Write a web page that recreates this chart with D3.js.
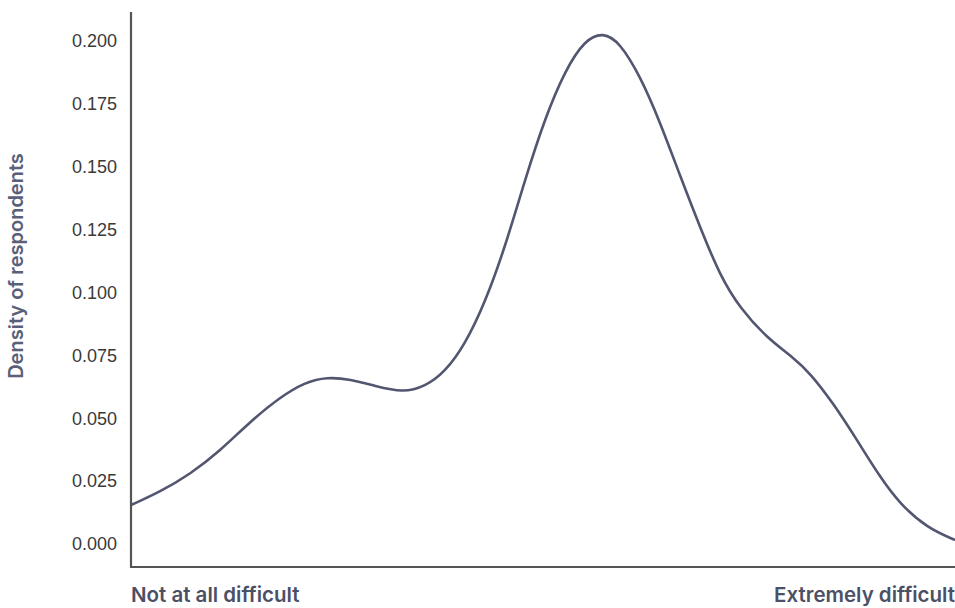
<!DOCTYPE html>
<html>
<head>
<meta charset="utf-8">
<script src="https://cdn.jsdelivr.net/npm/d3@7"></script>
<style>
  html, body { margin: 0; padding: 0; background: #fff; }
  svg { display: block; }
</style>
</head>
<body>
<svg id="chart" width="955" height="608"></svg>
<script>
// Position along the difficulty scale (0 = Not at all difficult, 1 = Extremely difficult)
const positions = [0, 0.035, 0.072, 0.108, 0.144, 0.181, 0.211, 0.238, 0.266, 0.296, 0.330, 0.357, 0.381, 0.405, 0.430, 0.454, 0.478, 0.502, 0.527, 0.551, 0.573, 0.593, 0.618, 0.642, 0.666, 0.691, 0.715, 0.739, 0.772, 0.803, 0.824, 0.852, 0.881, 0.909, 0.933, 0.966, 1.0];
// Estimated density at each position
const densities = [0.0155, 0.0207, 0.0278, 0.0370, 0.0485, 0.0584, 0.0643, 0.0664, 0.0655, 0.0628, 0.0602, 0.0626, 0.0684, 0.0791, 0.0962, 0.1181, 0.1447, 0.1690, 0.1885, 0.2005, 0.2035, 0.1995, 0.1860, 0.1678, 0.1467, 0.1256, 0.1066, 0.0938, 0.0819, 0.0744, 0.0680, 0.0561, 0.0414, 0.0266, 0.0160, 0.0064, 0.0016];
const yTicks = [0, 0.025, 0.05, 0.075, 0.1, 0.125, 0.15, 0.175, 0.2];
const xEndLabels = ["Not at all difficult", "Extremely difficult"];
const yTitle = "Density of respondents";

const svg = d3.select("#chart");
const left = 131, right = 955, axisTop = 12, axisBottom = 567;

const x = d3.scaleLinear().domain([0, 1]).range([left, right]);
const y = d3.scaleLinear().domain([0, 0.2]).range([544, 41]);

const data = positions.map((p, i) => ({ p, v: densities[i] }));

// y tick labels
svg.append("g")
  .selectAll("text")
  .data(yTicks)
  .join("text")
  .attr("x", 117)
  .attr("y", d => y(d))
  .attr("dy", "0.35em")
  .attr("text-anchor", "end")
  .attr("font-family", "Liberation Sans, Arial, sans-serif")
  .attr("font-size", 18)
  .attr("fill", "#3a3a3a")
  .text(d => d3.format(".3f")(d));

// density curve
const line = d3.line()
  .x(d => x(d.p))
  .y(d => y(d.v))
  .curve(d3.curveBasis);

svg.append("path")
  .datum(data)
  .attr("d", line)
  .attr("fill", "none")
  .attr("stroke", "#535670")
  .attr("stroke-width", 2.6);

// axes lines
svg.append("line")
  .attr("x1", left).attr("x2", left)
  .attr("y1", axisTop).attr("y2", axisBottom + 1)
  .attr("stroke", "#555").attr("stroke-width", 2.2);
svg.append("line")
  .attr("x1", left).attr("x2", right)
  .attr("y1", axisBottom).attr("y2", axisBottom)
  .attr("stroke", "#555").attr("stroke-width", 2.2);

// x end labels
svg.append("text")
  .attr("x", left).attr("y", 602)
  .attr("font-family", "Inter, sans-serif")
  .attr("font-weight", 600)
  .attr("font-size", 20.5)
  .attr("fill", "#4b5066")
  .text(xEndLabels[0]);
svg.append("text")
  .attr("x", right).attr("y", 602)
  .attr("text-anchor", "end")
  .attr("font-family", "Inter, sans-serif")
  .attr("font-weight", 600)
  .attr("font-size", 20.5)
  .attr("fill", "#4b5066")
  .text(xEndLabels[1]);

// y title
svg.append("text")
  .attr("transform", "translate(23,266) rotate(-90)")
  .attr("text-anchor", "middle")
  .attr("font-family", "Inter, sans-serif")
  .attr("font-weight", 600)
  .attr("font-size", 20)
  .attr("fill", "#5a6078")
  .text(yTitle);
</script>
</body>
</html>
